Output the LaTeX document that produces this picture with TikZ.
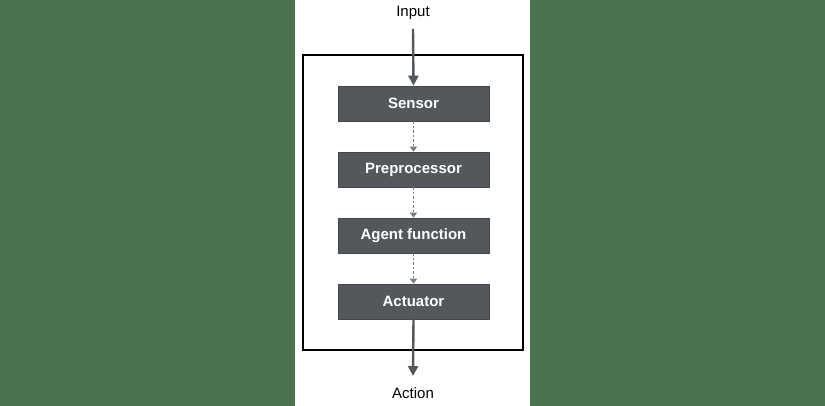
\documentclass[tikz,border=0pt]{standalone}
\usepackage{fontspec}
\setmainfont{Liberation Sans}
\usetikzlibrary{arrows.meta}
\definecolor{bggreen}{HTML}{4A7450}
\definecolor{boxgray}{HTML}{54575C}
\definecolor{arrowgray}{HTML}{54575C}
\definecolor{dashgray}{HTML}{7A7C80}
\begin{document}
\begin{tikzpicture}[x=1pt,y=-1pt,
  stagebox/.style={draw=boxgray!80!black,fill=boxgray,text=white,font=\bfseries\fontsize{15}{17}\selectfont,
    minimum width=151pt,minimum height=35pt,inner sep=0pt,line width=0.6pt},
  lbl/.style={font=\fontsize{15}{17}\selectfont,text=black,inner sep=0pt},
  mainarrow/.style={draw=arrowgray,line width=2.4pt,-{Triangle[length=10pt,width=10pt]}},
  dasharrow/.style={draw=dashgray,line width=1.3pt,dash pattern=on 2.5pt off 2pt,-{Triangle[length=5pt,width=7pt]}}]
\fill[bggreen] (0,0) rectangle (825,406);
\fill[white] (295,0) rectangle (530,406);
\useasboundingbox (0,0) rectangle (825,406);
\draw[line width=1.8pt,black] (303,55) rectangle (523,350);
\node[lbl] (input) at (413,13) {Input};
\node[lbl] (action) at (413,393) {Action};
\node[stagebox] (sensor) at (413.5,103.5) {Sensor};
\node[stagebox] (pre) at (413.5,169.5) {Preprocessor};
\node[stagebox] (agent) at (413.5,235.5) {Agent function};
\node[stagebox] (act) at (413.5,301.5) {Actuator};
\coordinate (instart) at (413,29);
\coordinate (outend) at (413,376);
\draw[mainarrow] (instart) -- (sensor.north);
\draw[mainarrow] (act.south) -- (outend);
\draw[dasharrow] (sensor.south) -- (pre.north);
\draw[dasharrow] (pre.south) -- (agent.north);
\draw[dasharrow] (agent.south) -- (act.north);
\end{tikzpicture}
\end{document}
